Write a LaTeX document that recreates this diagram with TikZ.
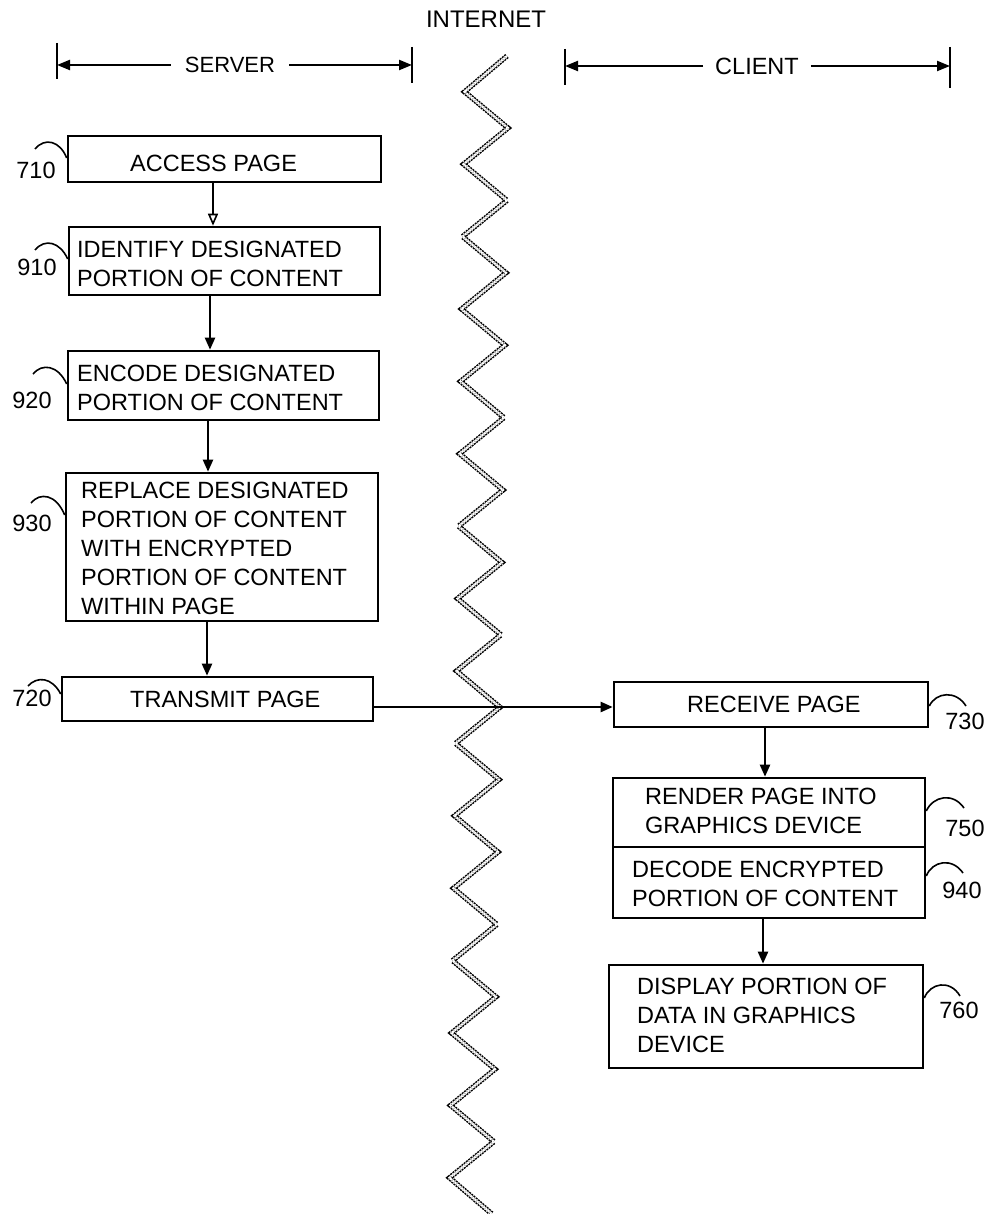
\documentclass[tikz,border=0pt]{standalone}
\usepackage{fontspec}
\setmainfont{Liberation Sans}
\usetikzlibrary{arrows.meta}
\begin{document}
\begin{tikzpicture}[x=1pt,y=-1pt,
  box/.style={draw, line width=2.6pt, inner sep=0pt},
  txt/.style={font=\fontsize{23.5}{29}\selectfont, inner sep=0pt, align=left, anchor=base west},
  lbl/.style={font=\fontsize{23.5}{29}\selectfont, inner sep=0pt},
  arr/.style={line width=2.2pt, -{Triangle[length=12pt,width=10pt]}},
  oarr/.style={line width=1.6pt, -{Triangle[open,length=12pt,width=10pt,fill=white,line width=1.6pt]}},
  hook/.style={line width=1.6pt},
  tickline/.style={line width=2.4pt},
  barr/.style={line width=2.2pt, -{Triangle[length=13pt,width=10pt]}},
  zig/.style={line width=1.5pt, double, double distance=2.2pt, dash pattern=on 2pt off 0.9pt, line join=miter}
]
\useasboundingbox (0,0) rectangle (991,1214);

% header
\node[lbl, font=\fontsize{24}{29}\selectfont] (internet) at (486,19) {INTERNET};
\node[lbl, font=\fontsize{22}{29}\selectfont, inner xsep=14pt] (server) at (230,65) {SERVER};
\node[lbl, inner xsep=12pt] (client) at (757,66) {CLIENT};
\coordinate (sL) at (57,65);
\coordinate (sR) at (412,65);
\coordinate (cL) at (565,66);
\coordinate (cR) at (950,66);
\draw[tickline] (57,43) -- (57,79);
\draw[tickline] (412,47) -- (412,83);
\draw[tickline] (565,49) -- (565,85);
\draw[tickline] (950,47) -- (950,88);
\draw[barr] (server.west) -- (sL);
\draw[barr] (server.east) -- (sR);
\draw[barr] (client.west) -- (cL);
\draw[barr] (client.east) -- (cR);

% internet zigzag
\draw[zig] (507,56) \foreach \k in {0,...,14}{ -- ({464.5-\k},{91.8+72.4*\k}) -- ({508-\k},{128+72.4*\k}) } -- (449.5,1177.8) -- (492,1214);

% server boxes
\node[box, minimum width=313pt, minimum height=46pt] (b710) at (224.5,159) {};
\node[box, minimum width=311pt, minimum height=68pt] (b910) at (224.5,261) {};
\node[box, minimum width=311pt, minimum height=69pt] (b920) at (223.5,385.5) {};
\node[box, minimum width=312pt, minimum height=148pt] (b930) at (222,547) {};
\node[box, minimum width=311pt, minimum height=44pt] (b720) at (217.5,699) {};
% client boxes
\node[box, minimum width=314pt, minimum height=45pt] (b730) at (771,704.5) {};
\node[box, minimum width=312pt, minimum height=69pt] (b750) at (769,812.5) {};
\node[box, minimum width=312pt, minimum height=71pt] (b940) at (769,882.5) {};
\node[box, minimum width=314pt, minimum height=103pt] (b760) at (766,1016.5) {};

% texts (anchor on the baseline of the last line)
\node[txt] (t710) at (130,172) {ACCESS PAGE};
\node[txt] (t910) at (77,287) {IDENTIFY DESIGNATED\\PORTION OF CONTENT};
\node[txt] (t920) at (77,410) {ENCODE DESIGNATED\\PORTION OF CONTENT};
\node[txt] (t930) at (81,614) {REPLACE DESIGNATED\\PORTION OF CONTENT\\WITH ENCRYPTED\\PORTION OF CONTENT\\WITHIN PAGE};
\node[txt] (t720) at (130,707) {TRANSMIT PAGE};
\node[txt] (t730) at (687,712) {RECEIVE PAGE};
\node[txt] (t750) at (645,833) {RENDER PAGE INTO\\GRAPHICS DEVICE};
\node[txt] (t940) at (632,906) {DECODE ENCRYPTED\\PORTION OF CONTENT};
\node[txt] (t760) at (637,1052) {DISPLAY PORTION OF\\DATA IN GRAPHICS\\DEVICE};

% reference labels
\node[lbl] (l710) at (36,170) {710};
\node[lbl] (l910) at (37,267) {910};
\node[lbl] (l920) at (32,400) {920};
\node[lbl] (l930) at (32,523) {930};
\node[lbl] (l720) at (32,698) {720};
\node[lbl] (l730) at (965,721) {730};
\node[lbl] (l750) at (965,828) {750};
\node[lbl] (l940) at (962,890) {940};
\node[lbl] (l760) at (959,1010) {760};

% hooks
\draw[hook] (35,149) .. controls (45,137) and (60,141) .. (b710.west |- 0,158);
\draw[hook] (35,250) .. controls (45,238) and (60,242) .. (b910.west |- 0,259);
\draw[hook] (33,374) .. controls (42,363) and (58,365) .. (b920.west |- 0,384);
\draw[hook] (31,503) .. controls (40,492) and (56,494) .. (b930.west |- 0,515);
\draw[hook] (28,686) .. controls (37,676) and (52,677) .. (b720.west |- 0,694);
\draw[hook] (b730.east |- 0,706) .. controls (936,692) and (956,690) .. (966,706);
\draw[hook] (b750.east |- 0,811) .. controls (933,796) and (953,792) .. (964,808);
\draw[hook] (b940.east |- 0,876) .. controls (932,861) and (952,857) .. (963,873);
\draw[hook] (b760.east |- 0,998) .. controls (930,983) and (950,979) .. (960,996);

% flow arrows
\draw[oarr] (b710.south -| 213,0) -- (b910.north -| 213,0);
\draw[arr] (b910.south -| 210,0) -- (b920.north -| 210,0);
\draw[arr] (b920.south -| 208,0) -- (b930.north -| 208,0);
\draw[arr] (b930.south -| 207,0) -- (b720.north -| 207,0);
\draw[arr] (b720.east |- 0,707) -- (b730.west |- 0,707);
\draw[arr] (b730.south -| 765,0) -- (b750.north -| 765,0);
\draw[arr] (b940.south -| 763,0) -- (b760.north -| 763,0);
\end{tikzpicture}
\end{document}
